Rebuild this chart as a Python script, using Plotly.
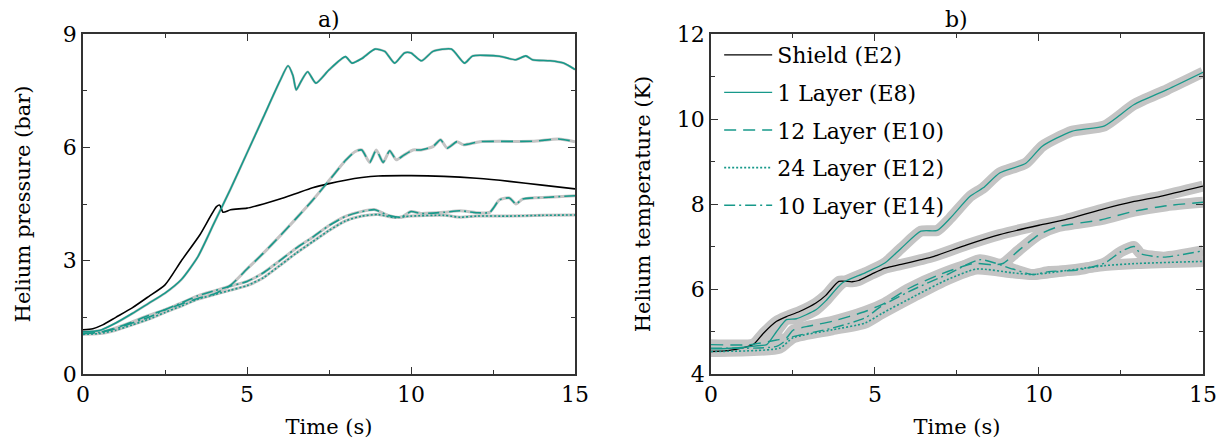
import plotly.graph_objects as go

TEAL = "#17998a"
GRAY = "#c4c4c4"
FONT = "DejaVu Serif"

# ---------- panel a) helium pressure (bar) ----------
t_a_e2 = [0, 0.3, 0.6, 1.0, 1.5, 2.0, 2.5, 3.0, 3.56, 4.07, 4.17, 4.27, 4.5, 5.0, 5.5, 6.0, 6.5, 7.0, 7.5, 8.0, 8.5, 9.0, 10.0, 11.0, 12.0, 13.0, 14.0, 15.0]
p_a_e2 = [1.17, 1.2, 1.3, 1.5, 1.75, 2.05, 2.36, 3.0, 3.68, 4.43, 4.47, 4.28, 4.35, 4.39, 4.5, 4.63, 4.78, 4.93, 5.04, 5.13, 5.2, 5.24, 5.25, 5.23, 5.18, 5.1, 5.0, 4.9]

t_a_e8 = [0, 0.5, 1.0, 1.5, 2.0, 2.5, 3.0, 3.5, 4.0, 4.5, 5.0, 5.5, 6.0, 6.25, 6.4, 6.5, 6.65, 6.85, 7.1, 7.5, 8.0, 8.2, 8.5, 8.9, 9.2, 9.5, 9.8, 10.0, 10.32, 10.67, 11.23, 11.63, 11.88, 12.7, 13.2, 13.5, 13.7, 14.24, 14.65, 15.0]
p_a_e8 = [1.12, 1.15, 1.35, 1.6, 1.87, 2.14, 2.5, 3.1, 4.0, 4.9, 5.85, 6.8, 7.75, 8.16, 7.9, 7.52, 7.75, 8.0, 7.7, 8.05, 8.4, 8.23, 8.35, 8.6, 8.54, 8.23, 8.5, 8.5, 8.29, 8.54, 8.6, 8.23, 8.42, 8.41, 8.32, 8.42, 8.32, 8.29, 8.23, 8.06]

t_a_e10 = [0, 0.5, 1.0, 1.5, 2.0, 2.5, 3.0, 3.5, 4.0, 4.5, 5.0, 5.5, 6.0, 6.5, 7.0, 7.5, 8.0, 8.3, 8.5, 8.74, 8.94, 9.15, 9.35, 9.55, 9.76, 10.06, 10.3, 10.67, 10.9, 11.1, 11.4, 11.6, 12.1, 13.7, 14.5, 15.0]
p_a_e10 = [1.08, 1.1, 1.22, 1.38, 1.55, 1.7, 1.85, 2.0, 2.12, 2.35, 2.78, 3.2, 3.65, 4.12, 4.6, 5.12, 5.65, 5.89, 5.93, 5.6, 5.93, 5.6, 5.91, 5.67, 5.78, 5.93, 5.93, 6.02, 6.2, 5.98, 6.15, 6.07, 6.15, 6.16, 6.22, 6.15]

t_a_e12 = [0, 0.5, 1.0, 1.5, 2.0, 2.5, 3.0, 3.5, 4.0, 4.5, 5.0, 5.5, 6.0, 6.5, 7.0, 7.5, 8.0, 8.5, 9.0, 9.5, 10.0, 11.0, 11.5, 12.0, 13.0, 14.0, 15.0]
p_a_e12 = [1.05, 1.07, 1.16, 1.3, 1.45, 1.63, 1.8, 1.98, 2.1, 2.22, 2.34, 2.55, 2.87, 3.2, 3.5, 3.8, 4.05, 4.18, 4.22, 4.14, 4.18, 4.2, 4.15, 4.18, 4.18, 4.2, 4.21]

t_a_e14 = [0, 0.5, 1.0, 1.5, 2.0, 2.5, 3.0, 3.5, 4.0, 4.5, 5.0, 5.5, 6.0, 6.5, 7.0, 7.5, 8.0, 8.5, 8.9, 9.3, 9.7, 10.0, 10.3, 11.0, 11.5, 12.0, 12.4, 12.7, 13.0, 13.2, 13.4, 14.2, 15.0]
p_a_e14 = [1.07, 1.1, 1.2, 1.35, 1.5, 1.7, 1.88, 2.07, 2.2, 2.33, 2.45, 2.68, 3.0, 3.33, 3.62, 3.93, 4.17, 4.3, 4.35, 4.2, 4.15, 4.3, 4.25, 4.28, 4.32, 4.27, 4.28, 4.61, 4.66, 4.5, 4.63, 4.68, 4.72]

# ---------- panel b) helium temperature (K) ----------
t_b_e2 = [0, 0.5, 1.0, 1.3, 1.6, 2.0, 2.3, 2.7, 3.2, 3.5, 3.9, 4.3, 4.5, 4.9, 5.3, 5.8, 6.4, 6.8, 7.8, 8.8, 10.0, 10.8, 11.9, 12.9, 13.7, 15.0]
T_b_e2 = [4.53, 4.55, 4.62, 4.7, 4.96, 5.24, 5.35, 5.47, 5.67, 5.85, 6.18, 6.17, 6.2, 6.35, 6.49, 6.58, 6.69, 6.77, 7.04, 7.28, 7.5, 7.63, 7.87, 8.06, 8.18, 8.42]

t_b_e8 = [0, 0.5, 1.0, 1.5, 1.7, 2.0, 2.3, 2.6, 3.2, 3.5, 4.0, 4.7, 5.3, 5.8, 6.4, 6.9, 7.3, 7.9, 8.3, 8.8, 9.6, 10.1, 11.0, 12.0, 12.9, 13.9, 15.0]
T_b_e8 = [4.59, 4.6, 4.63, 4.67, 4.69, 5.0, 5.28, 5.3, 5.51, 5.72, 6.14, 6.38, 6.61, 6.96, 7.36, 7.38, 7.67, 8.18, 8.38, 8.73, 8.96, 9.36, 9.71, 9.84, 10.34, 10.69, 11.1]

t_b_e10 = [0, 1.2, 2.0, 2.3, 2.5, 3.0, 3.7, 4.7, 5.3, 6.0, 7.0, 8.0, 8.6, 8.9, 9.4, 10.0, 10.6, 11.9, 12.9, 13.9, 15.0]
T_b_e10 = [4.69, 4.69, 4.8, 4.85, 5.03, 5.13, 5.24, 5.47, 5.67, 6.0, 6.35, 6.6, 6.57, 6.6, 6.92, 7.28, 7.47, 7.63, 7.83, 7.96, 8.04]

t_b_e12 = [0, 2.1, 2.5, 3.7, 4.7, 5.2, 6.2, 7.2, 8.1, 9.2, 9.8, 10.3, 12.0, 13.0, 15.0]
T_b_e12 = [4.53, 4.61, 4.85, 5.04, 5.2, 5.42, 5.83, 6.22, 6.47, 6.38, 6.34, 6.38, 6.55, 6.6, 6.65]

t_b_e14 = [0, 2.0, 2.4, 3.7, 4.7, 5.2, 6.2, 7.2, 8.2, 9.2, 9.8, 10.3, 11.2, 12.0, 12.5, 12.9, 13.1, 13.8, 15.0]
T_b_e14 = [4.61, 4.65, 4.85, 5.08, 5.32, 5.6, 6.0, 6.34, 6.69, 6.47, 6.34, 6.41, 6.45, 6.61, 6.88, 7.0, 6.83, 6.75, 6.9]

names = ["Shield (E2)", "1 Layer (E8)", "12 Layer (E10)", "24 Layer (E12)", "10 Layer (E14)"]
colors = ["black", TEAL, TEAL, TEAL, TEAL]
dashes = ["solid", "solid", "12px,7px", "2px,2px", "11px,4px,2px,4px"]
widths_b = [1.3, 1.3, 1.4, 1.6, 1.4]

series_a = [(t_a_e2, p_a_e2), (t_a_e8, p_a_e8), (t_a_e10, p_a_e10), (t_a_e12, p_a_e12), (t_a_e14, p_a_e14)]
series_b = [(t_b_e2, T_b_e2), (t_b_e8, T_b_e8), (t_b_e10, T_b_e10), (t_b_e12, T_b_e12), (t_b_e14, T_b_e14)]

fig = go.Figure()

for i, (t, v) in enumerate(series_a):
    if i == 0:
        continue
    fig.add_trace(go.Scatter(x=t, y=v, mode="lines", line=dict(color=GRAY, width=3 if i > 1 else 2.5, shape="spline", smoothing=0.6),
                             showlegend=False, hoverinfo="skip", xaxis="x", yaxis="y"))
for t, v in series_b:
    fig.add_trace(go.Scatter(x=t, y=v, mode="lines", line=dict(color=GRAY, width=11, shape="spline", smoothing=0.6),
                             showlegend=False, hoverinfo="skip", xaxis="x2", yaxis="y2"))

for i, (t, v) in enumerate(series_a):
    fig.add_trace(go.Scatter(x=t, y=v, mode="lines", name=names[i],
                             line=dict(color=colors[i], width=1.6, dash=dashes[i], shape="spline", smoothing=0.6),
                             showlegend=False, xaxis="x", yaxis="y"))
for i, (t, v) in enumerate(series_b):
    fig.add_trace(go.Scatter(x=t, y=v, mode="lines", name=names[i], legendgroup="g%d" % i,
                             line=dict(color=colors[i], width=widths_b[i], dash=dashes[i], shape="spline", smoothing=0.6),
                             showlegend=True, xaxis="x2", yaxis="y2"))

axis_common = dict(showline=True, linecolor="#333333", linewidth=1.5, mirror="allticks",
                   ticks="inside", ticklen=7, tickwidth=1.3, tickcolor="#333333",
                   showgrid=False, zeroline=False, automargin=False,
                   tickfont=dict(family=FONT, size=22, color="black"),
                   title_font=dict(family=FONT, size=21, color="black"))

fig.update_layout(
    width=1227, height=441,
    margin=dict(l=83, r=24, t=34, b=67),
    paper_bgcolor="white", plot_bgcolor="white",
    font=dict(family=FONT, size=22, color="black"),
    xaxis=dict(domain=[0, 0.4393], range=[0, 15], tickvals=[0, 5, 10, 15],
               minor=dict(ticks="inside", ticklen=4, tickcolor="#333333", dtick=2.5, showgrid=False),
               title=dict(text="Time (s)", standoff=13), anchor="y", **axis_common),
    yaxis=dict(domain=[0, 1], range=[0, 9], tickvals=[0, 3, 6, 9],
               minor=dict(ticks="inside", ticklen=4, tickcolor="#333333", dtick=1.5, showgrid=False),
               title=dict(text="Helium pressure (bar)", standoff=26), anchor="x", **axis_common),
    xaxis2=dict(domain=[0.5607, 1], range=[0, 15], tickvals=[0, 5, 10, 15],
                minor=dict(ticks="inside", ticklen=4, tickcolor="#333333", dtick=2.5, showgrid=False),
                title=dict(text="Time (s)", standoff=13), anchor="y2", **axis_common),
    yaxis2=dict(domain=[0, 1], range=[4, 12], tickvals=[4, 6, 8, 10, 12],
                minor=dict(ticks="inside", ticklen=4, tickcolor="#333333", dtick=1, showgrid=False),
                title=dict(text="Helium temperature (K)", standoff=20), anchor="x2", **axis_common),
    legend=dict(x=0.568, y=1.0, xanchor="left", yanchor="top", bgcolor="rgba(0,0,0,0)",
                font=dict(family=FONT, size=22, color="black"), tracegroupgap=6, itemwidth=48,
                traceorder="grouped"),
    annotations=[
        dict(text="a)", x=0.2196, y=1.0, xref="paper", yref="paper", xanchor="center", yanchor="bottom",
             showarrow=False, font=dict(family=FONT, size=22, color="black")),
        dict(text="b)", x=0.7803, y=1.0, xref="paper", yref="paper", xanchor="center", yanchor="bottom",
             showarrow=False, font=dict(family=FONT, size=22, color="black")),
    ],
)

fig.write_html("out.html")
